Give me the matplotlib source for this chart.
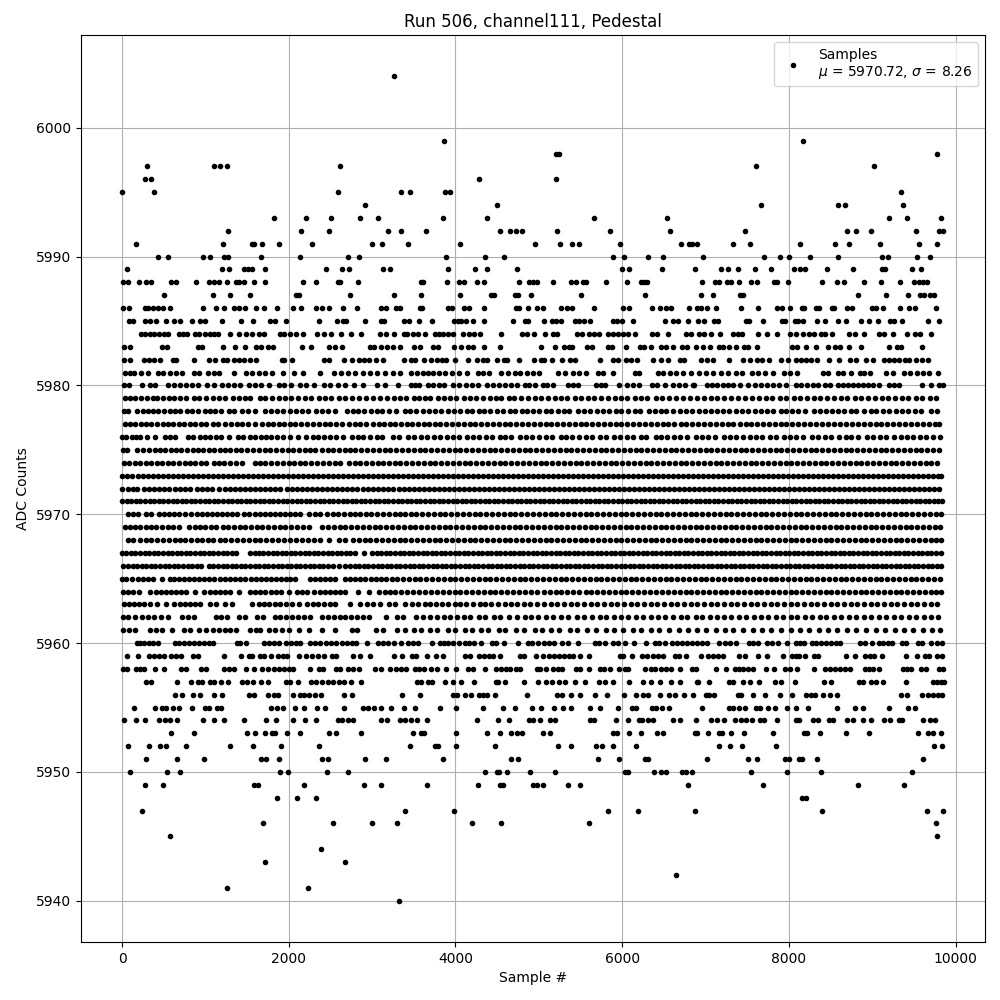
import matplotlib
matplotlib.use("Agg")
import matplotlib.pyplot as plt

# Sample numbers per ADC level.
# Levels 5961-5979 overlap into bars: those positions are hand estimates of coverage.
adc_6004 = [3260]
adc_5999 = [3868, 8168]
adc_5998 = [5205, 5240, 9776]
adc_5997 = [300, 1100, 1172, 1256, 2612, 7604, 9020]
adc_5996 = [272, 348, 4284, 5208]
adc_5995 = [0, 380, 2588, 3344, 3456, 3876, 3936, 9344]
adc_5994 = [2916, 4500, 7664, 8588, 8672, 9368]
adc_5993 = [1820, 2204, 2504, 2856, 3068, 3852, 4380, 5664, 6540, 9200, 9416, 9824]
adc_5992 = [1268, 2144, 2480, 3188, 3344, 3648, 4536, 4656, 4728, 4800, 5220, 5856, 6576, 7472, 8696, 8804, 8984, 9524, 9800, 9848]
adc_5991 = [164, 1208, 1560, 1588, 1680, 1880, 2276, 2996, 3116, 3428, 4056, 4956, 5256, 5400, 5484, 5976, 6708, 6804, 6840, 6900, 7328, 7532, 8132, 8552, 8720, 9092, 9560, 9776]
adc_5990 = [428, 548, 968, 1052, 1220, 1268, 1664, 2136, 2708, 2840, 3888, 4356, 4584, 5892, 6024, 6312, 6492, 6968, 7700, 7892, 8000, 8252, 8588, 9116, 9188, 9536, 9692]
adc_5989 = [56, 1196, 1280, 1460, 1508, 1556, 1712, 2444, 2636, 2720, 3128, 3212, 3912, 4236, 4380, 4740, 6000, 6084, 6480, 6872, 7188, 7268, 7388, 7592, 7784, 8060, 8132, 8192, 8456, 8768, 9116, 9152, 9476, 9584]
adc_5988 = [8, 68, 200, 284, 344, 584, 644, 884, 1040, 1108, 1160, 1256, 1364, 1400, 1460, 1580, 1712, 2168, 2324, 2588, 2612, 2828, 3588, 3612, 3900, 4044, 4104, 4260, 4344, 4764, 4884, 4932, 4980, 5172, 5388, 5448, 5532, 5568, 5808, 6060, 6228, 6264, 6300, 6956, 7112, 7160, 7256, 7304, 7400, 7544, 7616, 7820, 7856, 7988, 8396, 8576, 8660, 8900, 9104, 9332, 9500, 9560, 9608, 9656]
adc_5987 = [500, 1092, 1292, 1532, 2084, 2120, 2732, 3260, 3588, 4056, 4428, 4464, 4716, 4752, 4908, 5508, 6276, 6944, 7088, 7412, 7448, 8828, 9164, 9428, 9572, 9620, 9692, 9740]
adc_5986 = [8, 80, 272, 308, 368, 428, 488, 572, 968, 1124, 1220, 1340, 1400, 1472, 1604, 1700, 1856, 2048, 2144, 2324, 2396, 2480, 2648, 2816, 3104, 3164, 3284, 3332, 3572, 3600, 3912, 3960, 4104, 4164, 4344, 4728, 4764, 4872, 4980, 5052, 5268, 5340, 5400, 5664, 6012, 6084, 6360, 6456, 6528, 6588, 6800, 6896, 6944, 7016, 7124, 7424, 7628, 7856, 7916, 8012, 8156, 8180, 8324, 8360, 8516, 8540, 8696, 8756, 8996, 9044, 9128, 9332, 9440, 9512, 9764]
adc_5985 = [80, 128, 272, 332, 404, 524, 620, 692, 836, 932, 992, 1196, 1424, 1568, 1772, 1832, 1972, 2360, 2576, 2648, 2684, 2912, 3104, 3140, 3380, 3444, 3564, 3720, 3984, 4032, 4068, 4128, 4212, 4344, 4692, 4836, 4872, 5064, 5160, 5208, 5268, 5436, 5484, 5544, 5616, 5892, 5940, 6000, 6132, 6516, 6612, 6672, 6792, 6908, 6980, 7100, 7148, 7484, 7520, 7688, 7916, 7952, 8072, 8108, 8168, 8336, 8432, 8588, 8684, 8864, 8960, 9068, 9212, 9260, 9356, 9668, 9800]
adc_5984 = [224, 272, 332, 380, 440, 500, 548, 680, 728, 776, 872, 920, 992, 1052, 1100, 1148, 1292, 1400, 1484, 1556, 1640, 1700, 1892, 1940, 2012, 2084, 2168, 2336, 2420, 2504, 2624, 2744, 2864, 3092, 3164, 3260, 3380, 3420, 3492, 3552, 3636, 3756, 3804, 3852, 3912, 3972, 4092, 4164, 4224, 4296, 4548, 4800, 4860, 4944, 5076, 5172, 5220, 5460, 5520, 5604, 5664, 5724, 5832, 5892, 5952, 6012, 6072, 6156, 6360, 6420, 6552, 6768, 6824, 6920, 6980, 7064, 7172, 7328, 7388, 7436, 7628, 7736, 7856, 8012, 8084, 8168, 8240, 8300, 8384, 8432, 8516, 8720, 8792, 8900, 9080, 9140, 9248, 9416, 9512, 9572, 9704]
adc_5983 = [20, 92, 476, 536, 908, 956, 1208, 1352, 1472, 1604, 1664, 1748, 1808, 2156, 2264, 2480, 2552, 2636, 2972, 3020, 3104, 3176, 3248, 3332, 3504, 3576, 3732, 3792, 3984, 4068, 4152, 4212, 4344, 4536, 5028, 5196, 5304, 5364, 5400, 5580, 5640, 5832, 5880, 6048, 6216, 6264, 6348, 6468, 6528, 6612, 6720, 6776, 6884, 6968, 7052, 7160, 7208, 7280, 7364, 7460, 7508, 7616, 8036, 8096, 8208, 8324, 8468, 8552, 8612, 8720, 8864, 9200, 9296, 9344, 9596]
adc_5982 = [20, 100, 260, 320, 380, 452, 608, 644, 860, 1040, 1112, 1208, 1256, 1340, 1400, 1460, 1532, 1604, 1916, 1940, 2036, 2420, 2480, 2660, 2756, 2840, 2900, 2960, 3048, 3132, 3380, 3468, 3516, 3624, 3708, 3780, 3840, 3888, 3996, 4152, 4260, 4332, 4380, 4500, 4584, 4620, 4764, 4944, 5028, 5064, 5160, 5280, 5376, 5436, 5736, 5892, 5952, 6048, 6108, 6180, 6372, 6468, 6552, 6696, 6744, 6944, 7016, 7088, 7280, 7448, 7532, 7616, 7676, 7760, 7904, 7988, 8084, 8144, 8204, 8264, 8336, 8480, 8600, 8732, 8804, 8924, 9008, 9140, 9200, 9260, 9320, 9392, 9440, 9524, 9596, 9668]
adc_5981 = [32, 92, 140, 224, 308, 428, 488, 572, 644, 716, 860, 920, 1028, 1100, 1160, 1340, 1484, 1556, 1640, 1712, 1796, 1928, 2060, 2168, 2372, 2540, 2624, 2708, 2792, 2888, 2972, 3056, 3152, 3248, 3332, 3468, 3540, 3612, 3672, 3732, 3804, 3876, 3960, 4044, 4140, 4272, 4332, 4404, 4548, 4632, 4716, 4776, 4860, 4932, 5004, 5232, 5316, 5412, 5484, 5568, 5712, 5772, 5892, 6156, 6204, 6432, 6492, 6576, 6648, 6732, 6824, 6920, 7008, 7088, 7188, 7268, 7364, 7436, 7556, 7628, 7712, 7808, 7940, 8012, 8096, 8408, 8468, 8588, 8648, 8744, 8852, 8900, 8972, 9164, 9248, 9380, 9452, 9536, 9608, 9680, 9788]
adc_5980 = [20, 80, 236, 332, 400, 548, 620, 692, 764, 836, 908, 1016, 1100, 1196, 1268, 1340, 1412, 1520, 1592, 1664, 1760, 1880, 1940, 2024, 2132, 2204, 2300, 2420, 2492, 2588, 2672, 2780, 2888, 3056, 3152, 3308, 3468, 3516, 3564, 3672, 3732, 3804, 3864, 3972, 4044, 4128, 4200, 4272, 4380, 4452, 4524, 4596, 4668, 4740, 4836, 4884, 4956, 5052, 5100, 5172, 5352, 5412, 5472, 5688, 5748, 5796, 5964, 6060, 6132, 6204, 6360, 6420, 6516, 6612, 6684, 6756, 6852, 6860, 7016, 7076, 7136, 7208, 7268, 7328, 7412, 7508, 7592, 7664, 7736, 7808, 7880, 7964, 8084, 8144, 8216, 8288, 8348, 8432, 8492, 8588, 8648, 8708, 8768, 8828, 8888, 8948, 9008, 9080, 9200, 9260, 9320, 9596, 9704, 9800, 9848]
adc_5979 = [40, 95, 150, 230, 300, 365, 420, 490, 560, 620, 700, 770, 860, 925, 1010, 1090, 1160, 1240, 1330, 1400, 1470, 1540, 1660, 1720, 1800, 1880, 1950, 2030, 2110, 2190, 2270, 2360, 2430, 2510, 2600, 2680, 2760, 2840, 2930, 3010, 3090, 3180, 3260, 3340, 3410, 3500, 3560, 3640, 3700, 3790, 3860, 3930, 4010, 4100, 4180, 4250, 4330, 4410, 4490, 4550, 4640, 4700, 4790, 4870, 4950, 5030, 5110, 5190, 5270, 5340, 5430, 5510, 5590, 5660, 5750, 5830, 5910, 5990, 6060, 6150, 6230, 6300, 6400, 6480, 6560, 6640, 6730, 6810, 6900, 6980, 7070, 7140, 7220, 7300, 7390, 7470, 7560, 7640, 7730, 7800, 7890, 7970, 8060, 8130, 8220, 8300, 8370, 8460, 8540, 8630, 8700, 8790, 8870, 8950, 9030, 9120, 9190, 9270, 9360, 9430, 9520, 9600, 9690, 9770]
adc_5978 = [20, 70, 180, 245, 310, 370, 430, 505, 570, 635, 700, 775, 840, 915, 990, 1055, 1120, 1190, 1280, 1345, 1440, 1505, 1590, 1720, 1790, 1860, 1925, 2020, 2090, 2160, 2225, 2330, 2400, 2470, 2560, 2700, 2770, 2835, 2900, 2990, 3060, 3120, 3200, 3290, 3390, 3450, 3530, 3610, 3680, 3760, 3830, 3905, 3985, 4050, 4135, 4200, 4280, 4345, 4420, 4500, 4570, 4650, 4715, 4800, 4860, 4925, 5000, 5085, 5150, 5230, 5300, 5365, 5470, 5545, 5610, 5700, 5770, 5840, 5925, 5990, 6075, 6150, 6215, 6320, 6390, 6460, 6530, 6610, 6690, 6760, 6840, 6920, 6995, 7060, 7135, 7210, 7280, 7360, 7440, 7510, 7590, 7670, 7740, 7815, 7900, 7970, 8035, 8110, 8190, 8300, 8370, 8450, 8520, 8590, 8660, 8740, 8810, 8900, 8980, 9050, 9130, 9200, 9285, 9360, 9430, 9510, 9590, 9700, 9780]
adc_5977 = [30, 95, 160, 225, 290, 350, 420, 485, 550, 615, 680, 745, 810, 880, 945, 1010, 1090, 1155, 1240, 1310, 1375, 1440, 1510, 1600, 1680, 1745, 1810, 1880, 1945, 2010, 2075, 2150, 2215, 2290, 2360, 2430, 2500, 2570, 2640, 2720, 2790, 2860, 2925, 3010, 3080, 3145, 3210, 3280, 3350, 3415, 3480, 3550, 3620, 3685, 3750, 3820, 3890, 3960, 4030, 4100, 4170, 4240, 4310, 4380, 4450, 4525, 4595, 4660, 4730, 4800, 4870, 4940, 5015, 5085, 5150, 5220, 5295, 5360, 5430, 5500, 5570, 5640, 5710, 5780, 5850, 5920, 5990, 6060, 6130, 6200, 6270, 6340, 6415, 6485, 6555, 6625, 6700, 6770, 6840, 6910, 6980, 7050, 7125, 7195, 7265, 7335, 7410, 7480, 7550, 7620, 7690, 7760, 7830, 7900, 7970, 8040, 8110, 8185, 8255, 8330, 8400, 8470, 8545, 8615, 8690, 8760, 8830, 8900, 8970, 9040, 9110, 9180, 9250, 9320, 9395, 9465, 9535, 9605, 9680, 9750, 9800]
adc_5976 = [0, 50, 120, 170, 210, 300, 395, 510, 570, 630, 790, 850, 930, 1000, 1060, 1130, 1190, 1280, 1390, 1450, 1530, 1600, 1670, 1730, 1790, 1860, 1930, 2020, 2110, 2210, 2290, 2355, 2420, 2490, 2570, 2650, 2760, 2830, 2895, 2980, 3060, 3120, 3250, 3320, 3430, 3500, 3590, 3660, 3740, 3820, 3900, 3970, 4040, 4140, 4210, 4280, 4370, 4440, 4530, 4600, 4670, 4780, 4850, 4920, 5000, 5080, 5160, 5260, 5330, 5400, 5480, 5560, 5640, 5730, 5810, 5900, 5970, 6060, 6130, 6220, 6290, 6400, 6470, 6540, 6620, 6690, 6780, 6880, 6960, 7030, 7110, 7220, 7290, 7360, 7450, 7530, 7610, 7680, 7770, 7850, 7940, 8010, 8090, 8170, 8280, 8350, 8430, 8500, 8600, 8680, 8750, 8830, 8940, 9010, 9090, 9170, 9260, 9340, 9420, 9490, 9570, 9650, 9730, 9810]
adc_5975 = [10, 60, 180, 250, 325, 390, 450, 520, 590, 650, 710, 780, 850, 910, 975, 1040, 1100, 1170, 1235, 1300, 1365, 1430, 1500, 1570, 1640, 1720, 1780, 1850, 1920, 1985, 2050, 2120, 2190, 2255, 2320, 2400, 2465, 2530, 2600, 2670, 2730, 2800, 2870, 2940, 3010, 3080, 3150, 3220, 3290, 3360, 3430, 3500, 3570, 3640, 3710, 3780, 3850, 3920, 3990, 4060, 4130, 4200, 4270, 4340, 4410, 4480, 4550, 4620, 4690, 4760, 4830, 4900, 4970, 5040, 5110, 5180, 5250, 5320, 5390, 5460, 5530, 5600, 5670, 5740, 5810, 5880, 5950, 6020, 6090, 6160, 6230, 6300, 6370, 6440, 6510, 6580, 6650, 6720, 6790, 6860, 6930, 7000, 7070, 7140, 7210, 7280, 7350, 7420, 7490, 7560, 7630, 7700, 7770, 7840, 7910, 7980, 8050, 8120, 8190, 8260, 8330, 8400, 8470, 8540, 8610, 8680, 8750, 8820, 8890, 8960, 9030, 9100, 9170, 9240, 9310, 9380, 9450, 9520, 9590, 9660, 9730, 9800]
adc_5974 = [20, 85, 150, 220, 285, 345, 420, 480, 550, 615, 680, 750, 820, 880, 950, 1010, 1100, 1160, 1220, 1290, 1370, 1440, 1590, 1660, 1720, 1790, 1860, 1935, 2000, 2065, 2130, 2200, 2265, 2340, 2410, 2480, 2550, 2620, 2720, 2790, 2860, 2930, 3000, 3065, 3130, 3200, 3270, 3340, 3410, 3480, 3550, 3620, 3690, 3760, 3830, 3900, 3970, 4040, 4110, 4180, 4250, 4320, 4390, 4460, 4530, 4600, 4670, 4740, 4810, 4880, 4950, 5020, 5090, 5160, 5230, 5300, 5370, 5440, 5510, 5580, 5650, 5720, 5790, 5860, 5930, 6000, 6070, 6140, 6210, 6280, 6350, 6420, 6490, 6560, 6630, 6700, 6770, 6840, 6910, 6980, 7050, 7120, 7190, 7260, 7330, 7400, 7470, 7540, 7610, 7680, 7750, 7820, 7890, 7960, 8030, 8100, 8170, 8240, 8310, 8380, 8450, 8520, 8590, 8660, 8730, 8800, 8870, 8940, 9010, 9080, 9150, 9220, 9290, 9360, 9430, 9500, 9570, 9640, 9710, 9780]
adc_5973 = [0, 60, 120, 185, 245, 305, 365, 425, 485, 545, 605, 665, 725, 785, 845, 905, 965, 1025, 1085, 1145, 1205, 1265, 1325, 1385, 1445, 1505, 1565, 1625, 1685, 1745, 1805, 1865, 1925, 1985, 2045, 2105, 2165, 2225, 2285, 2345, 2405, 2465, 2525, 2585, 2645, 2705, 2765, 2825, 2885, 2945, 3005, 3065, 3125, 3185, 3245, 3305, 3365, 3425, 3485, 3545, 3605, 3665, 3725, 3785, 3845, 3905, 3965, 4025, 4085, 4145, 4205, 4265, 4325, 4385, 4445, 4505, 4565, 4625, 4685, 4745, 4805, 4865, 4925, 4985, 5045, 5105, 5165, 5225, 5285, 5345, 5405, 5465, 5525, 5585, 5645, 5705, 5765, 5825, 5885, 5945, 6005, 6065, 6125, 6185, 6245, 6305, 6365, 6425, 6485, 6545, 6605, 6665, 6725, 6785, 6845, 6905, 6965, 7025, 7085, 7145, 7205, 7265, 7325, 7385, 7445, 7505, 7565, 7625, 7685, 7745, 7805, 7865, 7925, 7985, 8045, 8105, 8165, 8225, 8285, 8345, 8405, 8465, 8525, 8585, 8645, 8705, 8765, 8825, 8885, 8945, 9005, 9065, 9125, 9185, 9245, 9305, 9365, 9425, 9485, 9545, 9605, 9665, 9725, 9785, 9820]
adc_5972 = [0, 65, 125, 180, 260, 325, 385, 445, 505, 565, 640, 700, 760, 820, 895, 955, 1020, 1080, 1160, 1240, 1300, 1360, 1420, 1480, 1540, 1600, 1660, 1720, 1780, 1840, 1900, 1980, 2040, 2100, 2160, 2220, 2280, 2340, 2400, 2460, 2520, 2580, 2640, 2700, 2760, 2820, 2890, 2950, 3010, 3070, 3130, 3190, 3250, 3320, 3380, 3440, 3500, 3560, 3620, 3680, 3740, 3800, 3860, 3920, 3980, 4040, 4100, 4160, 4220, 4280, 4340, 4400, 4460, 4520, 4580, 4640, 4700, 4760, 4820, 4880, 4940, 5000, 5060, 5120, 5180, 5240, 5300, 5360, 5420, 5480, 5540, 5600, 5660, 5720, 5780, 5840, 5900, 5960, 6020, 6080, 6140, 6200, 6260, 6320, 6380, 6440, 6500, 6560, 6620, 6680, 6740, 6800, 6860, 6920, 6980, 7040, 7100, 7160, 7220, 7280, 7340, 7400, 7460, 7520, 7580, 7640, 7700, 7760, 7820, 7880, 7940, 8000, 8060, 8120, 8180, 8240, 8300, 8360, 8420, 8480, 8540, 8600, 8660, 8720, 8780, 8840, 8900, 8960, 9020, 9080, 9140, 9200, 9260, 9320, 9380, 9440, 9500, 9560, 9620, 9680, 9740, 9800]
adc_5971 = [0, 55, 110, 165, 220, 275, 330, 385, 440, 495, 550, 605, 660, 715, 770, 825, 880, 935, 990, 1045, 1100, 1155, 1210, 1265, 1320, 1375, 1430, 1485, 1540, 1595, 1650, 1705, 1760, 1815, 1870, 1925, 1980, 2040, 2095, 2150, 2205, 2260, 2315, 2370, 2425, 2480, 2535, 2590, 2645, 2700, 2755, 2810, 2865, 2920, 2975, 3030, 3085, 3140, 3195, 3250, 3305, 3360, 3415, 3470, 3525, 3580, 3635, 3690, 3745, 3800, 3855, 3910, 3965, 4020, 4075, 4130, 4185, 4240, 4295, 4350, 4405, 4460, 4515, 4570, 4625, 4680, 4735, 4790, 4845, 4900, 4955, 5010, 5065, 5120, 5175, 5230, 5285, 5340, 5395, 5450, 5505, 5560, 5615, 5670, 5725, 5780, 5835, 5890, 5945, 6000, 6055, 6110, 6165, 6220, 6275, 6330, 6385, 6440, 6495, 6550, 6605, 6660, 6715, 6770, 6825, 6880, 6935, 6990, 7045, 7100, 7155, 7210, 7265, 7320, 7375, 7430, 7485, 7540, 7595, 7650, 7705, 7760, 7815, 7870, 7925, 7980, 8035, 8090, 8145, 8200, 8255, 8310, 8365, 8420, 8475, 8530, 8585, 8640, 8695, 8750, 8805, 8860, 8915, 8970, 9025, 9080, 9135, 9190, 9245, 9300, 9355, 9410, 9465, 9520, 9575, 9630, 9685, 9740, 9795, 9840]
adc_5970 = [75, 130, 190, 290, 350, 440, 500, 560, 620, 680, 760, 830, 895, 955, 1015, 1075, 1140, 1200, 1260, 1320, 1380, 1460, 1520, 1590, 1660, 1720, 1780, 1840, 1900, 1960, 2020, 2080, 2140, 2240, 2310, 2370, 2460, 2530, 2590, 2660, 2730, 2790, 2860, 2930, 2990, 3060, 3130, 3200, 3270, 3330, 3400, 3470, 3530, 3600, 3670, 3740, 3810, 3880, 3950, 4020, 4090, 4160, 4230, 4300, 4370, 4440, 4510, 4580, 4650, 4720, 4790, 4860, 4930, 5000, 5070, 5140, 5210, 5280, 5350, 5420, 5490, 5560, 5630, 5700, 5770, 5840, 5910, 5980, 6050, 6120, 6190, 6260, 6330, 6400, 6470, 6540, 6610, 6680, 6750, 6820, 6890, 6960, 7030, 7100, 7170, 7240, 7310, 7380, 7450, 7520, 7590, 7660, 7730, 7800, 7870, 7940, 8010, 8080, 8150, 8220, 8290, 8360, 8430, 8500, 8570, 8640, 8710, 8780, 8850, 8920, 8990, 9060, 9130, 9200, 9270, 9340, 9410, 9480, 9550, 9620, 9690, 9760, 9820]
adc_5969 = [30, 95, 160, 220, 285, 345, 410, 480, 545, 610, 680, 800, 870, 935, 1000, 1065, 1130, 1210, 1270, 1340, 1410, 1480, 1550, 1620, 1680, 1750, 1820, 1890, 1960, 2030, 2100, 2170, 2240, 2400, 2470, 2540, 2610, 2680, 2750, 2820, 2890, 2960, 3030, 3100, 3170, 3240, 3310, 3380, 3450, 3520, 3590, 3660, 3730, 3800, 3870, 3940, 4010, 4080, 4150, 4220, 4290, 4360, 4430, 4500, 4570, 4640, 4710, 4780, 4850, 4920, 4990, 5060, 5130, 5200, 5270, 5340, 5410, 5480, 5550, 5620, 5690, 5760, 5830, 5900, 5970, 6040, 6110, 6180, 6250, 6320, 6390, 6460, 6530, 6600, 6670, 6740, 6810, 6880, 6950, 7020, 7090, 7160, 7230, 7300, 7370, 7440, 7510, 7580, 7650, 7720, 7790, 7860, 7930, 8000, 8070, 8140, 8210, 8280, 8350, 8420, 8490, 8560, 8630, 8700, 8770, 8840, 8910, 8980, 9050, 9120, 9190, 9260, 9330, 9400, 9470, 9540, 9610, 9680, 9750, 9810]
adc_5968 = [70, 130, 220, 290, 350, 420, 490, 560, 640, 700, 760, 830, 900, 960, 1030, 1090, 1170, 1240, 1310, 1380, 1450, 1520, 1590, 1660, 1730, 1800, 1870, 1940, 2020, 2090, 2160, 2230, 2300, 2370, 2480, 2600, 2680, 2770, 2840, 2910, 2980, 3050, 3120, 3190, 3260, 3330, 3400, 3470, 3540, 3610, 3680, 3750, 3820, 3890, 3960, 4030, 4100, 4170, 4240, 4310, 4380, 4450, 4520, 4590, 4660, 4730, 4800, 4870, 4940, 5010, 5080, 5150, 5220, 5290, 5360, 5430, 5500, 5570, 5640, 5710, 5780, 5850, 5920, 5990, 6060, 6130, 6200, 6270, 6340, 6410, 6480, 6550, 6620, 6690, 6760, 6830, 6900, 6970, 7040, 7110, 7180, 7250, 7320, 7390, 7460, 7530, 7600, 7670, 7740, 7810, 7880, 7950, 8020, 8090, 8160, 8230, 8300, 8370, 8440, 8510, 8580, 8650, 8720, 8790, 8860, 8930, 9000, 9070, 9140, 9210, 9280, 9350, 9420, 9490, 9560, 9630, 9700, 9770, 9830]
adc_5967 = [0, 50, 105, 160, 215, 270, 325, 380, 435, 490, 545, 600, 655, 710, 765, 820, 875, 930, 985, 1040, 1095, 1150, 1205, 1260, 1315, 1370, 1530, 1590, 1640, 1695, 1750, 1805, 1860, 1915, 1970, 2025, 2080, 2135, 2190, 2245, 2300, 2355, 2410, 2465, 2520, 2575, 2630, 2685, 2740, 2795, 2900, 3000, 3055, 3110, 3165, 3220, 3275, 3330, 3385, 3440, 3495, 3550, 3605, 3660, 3715, 3770, 3825, 3880, 3935, 3990, 4045, 4100, 4155, 4210, 4265, 4320, 4375, 4430, 4485, 4540, 4595, 4650, 4705, 4760, 4815, 4870, 4925, 4980, 5035, 5090, 5145, 5200, 5255, 5310, 5365, 5420, 5475, 5530, 5585, 5640, 5695, 5750, 5805, 5860, 5915, 5970, 6025, 6080, 6135, 6190, 6245, 6300, 6355, 6410, 6465, 6520, 6575, 6630, 6685, 6740, 6795, 6850, 6905, 6960, 7015, 7070, 7125, 7180, 7235, 7290, 7345, 7400, 7455, 7510, 7565, 7620, 7675, 7730, 7785, 7840, 7895, 7950, 8005, 8060, 8115, 8170, 8225, 8280, 8335, 8390, 8445, 8500, 8555, 8610, 8665, 8720, 8775, 8830, 8885, 8940, 8995, 9050, 9105, 9160, 9215, 9270, 9325, 9380, 9435, 9490, 9545, 9600, 9655, 9710, 9765, 9825]
adc_5966 = [15, 70, 125, 180, 235, 290, 345, 400, 455, 510, 565, 620, 675, 730, 785, 840, 895, 950, 1040, 1095, 1150, 1205, 1260, 1315, 1370, 1425, 1480, 1535, 1590, 1645, 1700, 1755, 1810, 1865, 1920, 1975, 2030, 2085, 2140, 2195, 2250, 2305, 2360, 2415, 2470, 2525, 2600, 2680, 2735, 2790, 2845, 2900, 2955, 3010, 3065, 3120, 3175, 3230, 3285, 3340, 3395, 3450, 3505, 3560, 3615, 3670, 3725, 3780, 3835, 3890, 3945, 4000, 4055, 4110, 4165, 4220, 4275, 4330, 4385, 4440, 4495, 4550, 4605, 4660, 4715, 4770, 4825, 4880, 4935, 4990, 5045, 5100, 5155, 5210, 5265, 5320, 5375, 5430, 5485, 5540, 5595, 5650, 5705, 5760, 5815, 5870, 5925, 5980, 6035, 6090, 6145, 6200, 6255, 6310, 6365, 6420, 6475, 6530, 6585, 6640, 6695, 6750, 6805, 6860, 6915, 6970, 7025, 7080, 7135, 7190, 7245, 7300, 7355, 7410, 7465, 7520, 7575, 7630, 7685, 7740, 7795, 7850, 7905, 7960, 8015, 8070, 8125, 8180, 8235, 8290, 8345, 8400, 8455, 8510, 8565, 8620, 8675, 8730, 8785, 8840, 8895, 8950, 9005, 9060, 9115, 9170, 9225, 9280, 9335, 9390, 9445, 9500, 9555, 9610, 9665, 9720, 9775, 9830]
adc_5965 = [0, 50, 120, 190, 250, 310, 370, 480, 570, 620, 680, 740, 800, 860, 920, 980, 1040, 1100, 1170, 1240, 1300, 1360, 1420, 1480, 1550, 1610, 1670, 1730, 1790, 1850, 1910, 1970, 2020, 2080, 2260, 2320, 2380, 2440, 2500, 2560, 2680, 2740, 2800, 2860, 2920, 2990, 3050, 3110, 3170, 3240, 3300, 3370, 3440, 3510, 3580, 3650, 3720, 3790, 3860, 3930, 4000, 4070, 4140, 4210, 4280, 4350, 4420, 4490, 4560, 4630, 4700, 4770, 4840, 4910, 4980, 5050, 5120, 5190, 5260, 5330, 5400, 5470, 5540, 5610, 5680, 5750, 5820, 5890, 5960, 6030, 6100, 6170, 6240, 6310, 6380, 6450, 6520, 6590, 6660, 6730, 6800, 6870, 6940, 7010, 7080, 7150, 7220, 7290, 7360, 7430, 7500, 7570, 7640, 7710, 7780, 7850, 7920, 7990, 8060, 8130, 8200, 8270, 8340, 8410, 8480, 8550, 8620, 8690, 8760, 8830, 8900, 8970, 9040, 9110, 9180, 9250, 9320, 9390, 9460, 9530, 9600, 9670, 9740, 9810]
adc_5964 = [10, 70, 130, 200, 340, 410, 470, 530, 590, 650, 710, 770, 880, 980, 1050, 1110, 1170, 1230, 1290, 1400, 1530, 1600, 1660, 1720, 1790, 1850, 1910, 2000, 2100, 2160, 2220, 2300, 2370, 2430, 2490, 2550, 2620, 2680, 2830, 2960, 3080, 3150, 3220, 3280, 3350, 3420, 3490, 3560, 3630, 3710, 3780, 3850, 3920, 3990, 4060, 4130, 4200, 4270, 4340, 4410, 4480, 4550, 4620, 4690, 4760, 4840, 4910, 4980, 5060, 5130, 5200, 5270, 5340, 5410, 5480, 5560, 5630, 5700, 5770, 5840, 5910, 5980, 6050, 6120, 6190, 6260, 6330, 6410, 6480, 6550, 6620, 6690, 6760, 6830, 6900, 6970, 7040, 7110, 7180, 7250, 7320, 7390, 7460, 7530, 7600, 7670, 7740, 7810, 7880, 7950, 8020, 8090, 8160, 8230, 8300, 8370, 8440, 8510, 8580, 8650, 8720, 8790, 8860, 8930, 9000, 9070, 9140, 9210, 9280, 9350, 9420, 9490, 9560, 9630, 9700, 9770, 9830]
adc_5963 = [20, 80, 140, 200, 260, 340, 420, 530, 620, 700, 760, 820, 880, 940, 1060, 1130, 1240, 1320, 1560, 1640, 1700, 1760, 1830, 1900, 1970, 2040, 2120, 2220, 2290, 2350, 2420, 2490, 2560, 2740, 2860, 2940, 3010, 3100, 3200, 3270, 3400, 3480, 3550, 3630, 3700, 3770, 3840, 3910, 3990, 4060, 4130, 4210, 4290, 4360, 4430, 4510, 4590, 4670, 4740, 4820, 4900, 4980, 5060, 5140, 5220, 5300, 5380, 5460, 5540, 5620, 5700, 5780, 5860, 5940, 6020, 6100, 6180, 6260, 6340, 6420, 6500, 6580, 6660, 6740, 6820, 6900, 6980, 7060, 7140, 7220, 7300, 7380, 7460, 7540, 7620, 7700, 7780, 7860, 7940, 8020, 8100, 8180, 8260, 8340, 8420, 8500, 8580, 8660, 8740, 8820, 8900, 8980, 9060, 9140, 9220, 9300, 9380, 9460, 9540, 9620, 9700, 9780]
adc_5962 = [10, 70, 150, 240, 310, 380, 470, 550, 720, 790, 860, 1130, 1190, 1260, 1400, 1470, 1620, 1690, 1830, 1900, 1970, 2040, 2110, 2180, 2260, 2400, 2470, 2540, 2610, 2680, 2750, 2820, 2890, 2960, 3170, 3300, 3370, 3530, 3610, 3690, 3780, 3860, 3940, 4020, 4100, 4180, 4280, 4360, 4460, 4540, 4640, 4740, 4830, 4910, 4990, 5090, 5170, 5270, 5350, 5460, 5540, 5640, 5730, 5810, 5900, 5990, 6070, 6170, 6250, 6340, 6430, 6510, 6610, 6700, 6780, 6880, 6960, 7050, 7140, 7220, 7310, 7400, 7490, 7580, 7670, 7750, 7840, 7930, 8020, 8100, 8190, 8280, 8370, 8450, 8540, 8630, 8720, 8810, 8900, 8990, 9080, 9170, 9260, 9350, 9440, 9530, 9620, 9710, 9790]
adc_5961 = [15, 80, 150, 340, 410, 480, 600, 740, 810, 920, 1010, 1090, 1160, 1240, 1300, 1370, 1540, 1610, 1660, 1760, 1840, 1920, 2000, 2120, 2240, 2400, 2560, 2760, 2820, 3050, 3130, 3300, 3390, 3500, 3590, 3700, 3780, 3910, 4000, 4120, 4200, 4310, 4390, 4520, 4600, 4730, 4820, 4950, 5040, 5150, 5240, 5370, 5460, 5580, 5680, 5800, 5900, 6010, 6130, 6220, 6350, 6440, 6560, 6680, 6790, 6900, 7000, 7120, 7230, 7330, 7450, 7570, 7680, 7790, 7900, 8020, 8130, 8240, 8360, 8470, 8580, 8700, 8810, 8930, 9040, 9150, 9270, 9380, 9490, 9610, 9720, 9810]
adc_5960 = [176, 212, 260, 320, 368, 428, 632, 680, 740, 800, 860, 920, 980, 1040, 1088, 1376, 1412, 1484, 1700, 1760, 1820, 1880, 1964, 2024, 2084, 2132, 2252, 2312, 2372, 2444, 2504, 2564, 2636, 2696, 2756, 2804, 2936, 3068, 3128, 3188, 3260, 3344, 3428, 3492, 3552, 3720, 3816, 3864, 3912, 3972, 4044, 4116, 4164, 4224, 4308, 4440, 4488, 4584, 4752, 4872, 4920, 4992, 5064, 5124, 5184, 5280, 5352, 5472, 5676, 5724, 5796, 5892, 5952, 6036, 6144, 6288, 6396, 6444, 6512, 6600, 6660, 6720, 6780, 6840, 6900, 6960, 7016, 7160, 7232, 7292, 7364, 7520, 7568, 7628, 7736, 7796, 7868, 7976, 8084, 8132, 8180, 8276, 8324, 8384, 8444, 8504, 8564, 8612, 8852, 8912, 8996, 9080, 9128, 9188, 9236, 9356, 9404, 9548, 9596, 9704, 9776, 9836]
adc_5959 = [56, 188, 320, 380, 440, 500, 584, 644, 704, 848, 908, 1220, 1424, 1520, 1556, 1652, 1700, 1784, 1868, 1928, 1976, 2120, 2204, 2276, 2348, 2420, 2516, 2564, 2768, 2852, 2972, 3260, 3360, 3480, 3528, 3660, 3768, 3852, 4116, 4176, 4284, 4344, 4404, 4452, 4536, 4776, 4824, 4968, 5052, 5124, 5184, 5244, 5304, 5364, 5412, 5496, 5604, 5976, 6012, 6120, 6240, 6300, 6372, 6432, 6492, 6636, 6684, 6768, 6944, 7028, 7088, 7148, 7208, 7400, 7472, 7628, 7736, 7928, 8036, 8084, 8120, 8192, 8300, 8348, 8684, 8792, 8912, 8972, 9020, 9116, 9404, 9536, 9632, 9680, 9776, 9836]
adc_5958 = [8, 60, 164, 220, 260, 392, 500, 704, 764, 944, 1004, 1220, 1280, 1340, 1484, 1580, 1676, 1748, 1820, 1880, 1940, 2000, 2052, 2252, 2360, 2408, 2564, 2620, 2708, 2768, 2840, 3032, 3104, 3212, 3284, 3344, 3408, 3516, 3564, 3624, 3708, 3780, 3888, 4008, 4152, 4212, 4356, 4488, 4548, 4608, 4656, 4728, 4776, 4980, 5016, 5088, 5172, 5232, 5280, 5448, 5496, 5604, 5736, 5784, 5856, 5964, 6036, 6072, 6276, 6348, 6396, 6468, 6528, 6588, 6696, 6840, 6888, 7124, 7244, 7352, 7400, 7448, 7508, 7568, 7724, 7820, 7952, 8012, 8096, 8300, 8432, 8492, 8552, 8612, 8672, 8732, 8912, 8960, 9008, 9080, 9368, 9416, 9464, 9584, 9644, 9800, 9848]
adc_5957 = [284, 344, 656, 824, 908, 956, 1052, 1100, 1184, 1268, 1436, 1496, 1568, 1664, 1748, 1964, 2012, 2108, 2264, 2324, 2396, 2468, 2528, 2600, 2660, 2744, 2864, 3540, 3588, 3672, 3720, 3876, 3972, 4068, 4224, 4488, 4512, 4596, 4824, 4992, 5088, 5160, 5244, 5316, 5436, 5556, 5724, 5796, 5892, 6084, 6252, 6348, 6456, 6588, 6696, 6900, 6908, 7040, 7280, 7328, 7448, 7532, 7640, 7832, 7904, 8072, 8420, 8504, 8840, 8888, 8984, 9044, 9128, 9404, 9728, 9776, 9824, 9860]
adc_5956 = [632, 716, 848, 932, 1100, 1196, 1520, 1580, 1748, 1820, 1868, 2048, 2132, 2180, 2240, 2312, 2384, 2660, 2756, 3356, 3576, 3972, 4020, 4116, 4188, 4284, 4332, 4380, 4476, 4860, 5220, 5280, 5388, 5496, 5676, 5820, 6024, 6168, 6252, 6312, 6456, 6564, 6636, 6744, 6852, 7000, 7036, 7100, 7388, 7424, 7568, 7712, 7892, 8036, 8204, 8264, 8312, 8408, 8492, 8576, 9344, 9416, 9596, 9668, 9728, 9788, 9836]
adc_5955 = [140, 392, 476, 524, 608, 680, 836, 992, 1040, 1136, 1184, 1784, 1856, 1928, 2072, 2180, 2336, 2432, 2660, 2888, 2948, 3020, 3104, 3224, 3380, 3516, 3816, 4008, 4332, 4572, 4716, 4920, 5028, 5184, 5292, 5388, 5616, 5736, 5952, 6120, 6168, 6360, 6408, 6480, 6564, 6952, 7280, 7328, 7400, 7472, 7604, 7652, 7748, 7832, 7976, 8084, 8228, 8576, 8792, 8888, 9200, 9428, 9512]
adc_5954 = [20, 164, 272, 440, 512, 572, 656, 968, 1100, 1220, 1460, 1724, 1844, 2048, 2192, 2324, 2588, 2636, 2708, 2768, 3104, 3176, 3332, 3392, 3468, 3540, 3660, 4260, 4512, 4644, 4884, 4932, 5016, 5136, 5196, 5616, 5664, 5928, 6072, 6204, 6240, 6312, 6372, 6612, 6696, 6888, 7064, 7136, 7220, 7352, 7424, 7484, 7556, 7652, 7700, 7856, 8084, 8120, 8288, 8348, 8480, 8528, 8696, 8768, 8888, 8984, 9140, 9212, 9320, 9356, 9608, 9692, 9752]
adc_5953 = [584, 860, 1496, 1592, 1712, 1796, 1832, 1976, 2132, 2480, 2564, 2864, 3492, 3588, 3624, 4008, 4380, 4536, 4668, 4740, 4800, 5052, 5136, 5892, 5940, 6084, 6228, 6420, 6492, 6872, 6896, 7028, 7160, 7196, 7304, 7460, 7808, 8180, 8216, 8372, 8684, 8960, 9548, 9668, 9728, 9824]
adc_5952 = [68, 320, 452, 524, 764, 1292, 1568, 1904, 2360, 3456, 3756, 3792, 4008, 4476, 5232, 5388, 5688, 5760, 5892, 6168, 7160, 7292, 7436, 7844, 9740, 9836]
adc_5951 = [284, 656, 980, 1664, 1724, 1880, 2396, 2468, 2912, 3164, 3852, 4668, 4752, 5712, 5964, 6276, 6312, 7016, 7508, 7616, 7952, 8000, 8120, 8156, 8336, 9608]
adc_5950 = [92, 536, 692, 1892, 1988, 2456, 2708, 4356, 4500, 4524, 4620, 4896, 5196, 6036, 6072, 6384, 6468, 6528, 6720, 6768, 6840, 7544, 7976, 8384, 9476]
adc_5949 = [272, 488, 1580, 1628, 2180, 2900, 3104, 3660, 4272, 4536, 4572, 4932, 4980, 5052, 5352, 5496, 6792, 7688, 8828, 9380]
adc_5948 = [1856, 2096, 2324, 8156, 8204]
adc_5947 = [236, 3396, 3984, 5832, 6192, 6876, 8396, 9656, 9848]
adc_5946 = [1688, 2528, 2996, 3296, 4200, 4548, 5604, 9764]
adc_5945 = [572, 9776]
adc_5944 = [2384]
adc_5943 = [1712, 2672]
adc_5942 = [6648]
adc_5941 = [1256, 2228]
adc_5940 = [3320]

x_label = "Sample #"
y_label = "ADC Counts"
title = "Run 506, channel111, Pedestal"
legend_label = "Samples\n$\\mu$ = 5970.72, $\\sigma$ = 8.26"

xs, ys = [], []
for name, values in list(globals().items()):
    if name.startswith("adc_"):
        level = int(name[4:])
        xs.extend(values)
        ys.extend([level] * len(values))

fig, ax = plt.subplots(figsize=(10, 10), dpi=100)
ax.plot(xs, ys, "k.", label=legend_label)
ax.set_title(title)
ax.set_xlabel(x_label)
ax.set_ylabel(y_label)
ax.grid(True)
ax.legend(loc="upper right")
fig.subplots_adjust(left=0.081, right=0.985, top=0.965, bottom=0.058)
fig.savefig("out.png", dpi=100)
